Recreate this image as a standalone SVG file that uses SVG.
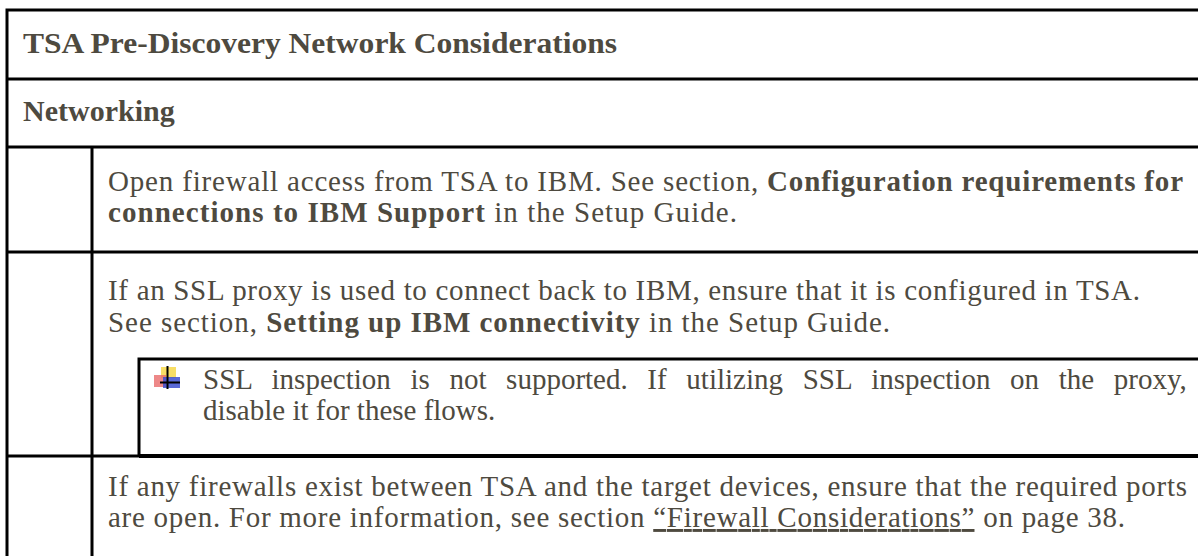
<svg xmlns="http://www.w3.org/2000/svg" width="1198" height="556" viewBox="0 0 1198 556">
<style>
.t{font-family:"Liberation Serif","Times New Roman",serif;font-size:29px;fill:#4e4a3f}
.h{font-family:"Liberation Serif","Times New Roman",serif;font-size:30px;font-weight:bold;fill:#4e4a3f}
.b{font-weight:bold}
.ln{stroke:#000;stroke-width:3;fill:none}
</style>
<rect width="1198" height="556" fill="#fff"/>
<g id="grid">
<path class="ln" d="M7 556V10H1198M7 79H1198M7 147H1198M7 252H1198M7 456H1198M92 147V556"/>
<path class="ln" d="M139 456V359H1198"/>
<path d="M139 456H1198" stroke="#000" stroke-width="4"/>
</g>
<g id="title">
<text class="h" x="23" y="53" textLength="594" lengthAdjust="spacingAndGlyphs">TSA Pre-Discovery Network Considerations</text>
</g>
<g id="networking">
<text class="h" x="23" y="121">Networking</text>
</g>
<g id="row1">
<text class="t" x="108" y="191" textLength="1075" lengthAdjust="spacing">Open firewall access from TSA to IBM. See section, <tspan class="b">Configuration requirements for</tspan></text>
<text class="t" x="108" y="222" textLength="629" lengthAdjust="spacing"><tspan class="b">connections to IBM Support</tspan> in the Setup Guide.</text>
</g>
<g id="row2">
<text class="t" x="108" y="300" textLength="1032" lengthAdjust="spacing">If an SSL proxy is used to connect back to IBM, ensure that it is configured in TSA.</text>
<text class="t" x="108" y="332" textLength="782" lengthAdjust="spacing">See section, <tspan class="b">Setting up IBM connectivity</tspan> in the Setup Guide.</text>
</g>
<g id="note">
<rect x="161" y="367" width="15" height="11" fill="#f7d84a" opacity="0.85"/>
<rect x="154" y="375" width="12" height="12" fill="#e86a6a" opacity="0.8"/>
<rect x="163" y="377" width="17" height="11" fill="#3c4fd0" opacity="0.85"/>
<path d="M167.5 366V389M160 382.5H180" stroke="#000" stroke-width="2"/>
<text class="t" x="203" y="389" word-spacing="12.4">SSL inspection is not supported. If utilizing SSL inspection on the proxy,</text>
<text class="t" x="203" y="420">disable it for these flows.</text>
</g>
<g id="row3">
<text class="t" x="108" y="496" textLength="1079" lengthAdjust="spacing">If any firewalls exist between TSA and the target devices, ensure that the required ports</text>
<text class="t" x="108" y="527" textLength="1017" lengthAdjust="spacing">are open. For more information, see section <tspan text-decoration="underline">“Firewall Considerations”</tspan> on page 38.</text>
</g>
</svg>
